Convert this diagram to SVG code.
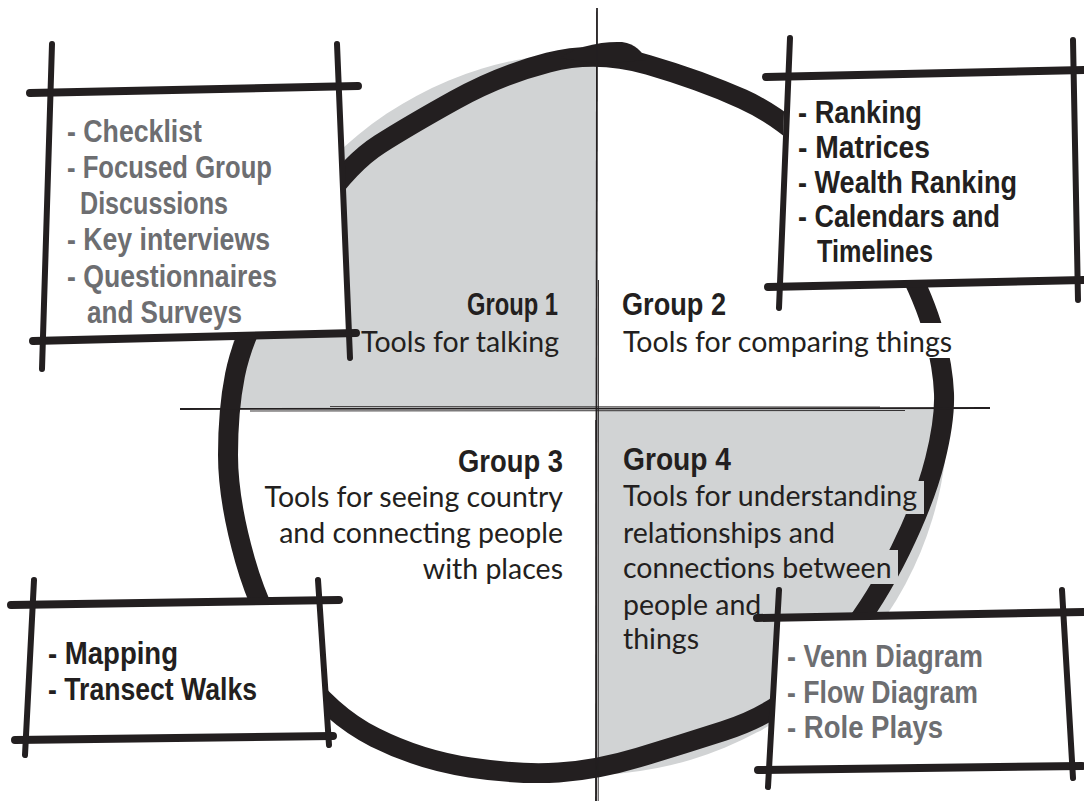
<svg xmlns="http://www.w3.org/2000/svg" width="1084" height="801" viewBox="0 0 1084 801">
<style>
.hand{font-family:"Liberation Sans",Arial,sans-serif;font-weight:bold;font-size:31px}
.head{font-size:32px}
.grey{fill:#6d6e71}
.dark{fill:#231f20}
.body{font-family:Lato,"Open Sans","Liberation Sans",sans-serif;font-size:28.5px;fill:#231f20}
.bx{fill:none;stroke:#231f20;stroke-linecap:round}
.h{stroke-width:8}
.v{stroke-width:6}
.div{fill:none;stroke:#231f20}
</style>
<defs>
<clipPath id="quads">
<rect x="0" y="0" width="597" height="409"/>
<rect x="597" y="409" width="487" height="392"/>
</clipPath>
</defs>
<rect width="1084" height="801" fill="#ffffff"/>
<g id="wheel">
<circle cx="587" cy="414" r="361" fill="#d1d3d4" clip-path="url(#quads)"/>
<path d="M 648.5,65 Q 700,80 742.5,99 Q 785,118 832.5,166.5 Q 880,215 902.5,257.5 Q 925,300 934,333.5 Q 943,367 944,393.5 Q 945,420 935,460 Q 925,500 900.5,550 Q 876,600 848,635 Q 820,670 793.5,693.5 Q 767,717 723.5,731 Q 680,745 638.5,757.5 Q 597,770 558.5,772.5 Q 520,775 470,767.5 Q 420,760 375,737.5 Q 330,715 296,667.5 Q 262,620 245,560 Q 228,500 228,455 Q 228,410 235,375 Q 242,340 266,295 Q 290,250 320,206.5 Q 350,163 380,144 Q 410,125 455,100 Q 500,75 548.5,62.5 Q 597,50 648.5,65 Z" fill="none" stroke="#231f20" stroke-width="20"/>
<path d="M 560,58 C 575,47 600,41 622,42 C 636,44 642,52 646,60 L 600,64 Z" fill="#231f20"/>
</g>
<g id="dividers">
<path class="div" d="M597,8 L596,801" stroke-width="1.8"/>
<path class="div" d="M598.5,280 L598.2,801" stroke-width="0.9"/>
<path class="div" d="M595.6,420 L596.2,801" stroke-width="0.8"/>
<path class="div" d="M180,409 L990,408" stroke-width="1.8"/>
<path class="div" d="M250,411 L905,410.5" stroke-width="0.9"/>
<path class="div" d="M330,406.5 L880,407" stroke-width="0.8"/>
</g>
<g id="group1">
<text class="hand head dark" x="467" y="315" textLength="91" lengthAdjust="spacingAndGlyphs">Group 1</text>
<text class="body" x="559" y="352" text-anchor="end">Tools for talking</text>
</g>
<g id="group2">
<rect x="618" y="323" width="336" height="35" fill="#ffffff"/>
<text class="hand head dark" x="622" y="315" textLength="104" lengthAdjust="spacingAndGlyphs">Group 2</text>
<text class="body" x="623" y="352">Tools for comparing things</text>
</g>
<g id="group3">
<text class="hand head dark" x="458" y="472" textLength="105" lengthAdjust="spacingAndGlyphs">Group 3</text>
<text class="body" text-anchor="end"><tspan x="563" y="507">Tools for seeing country</tspan><tspan x="563" y="543">and connecting people</tspan><tspan x="563" y="579">with places</tspan></text>
</g>
<g id="group4">
<rect x="620" y="481" width="304" height="33" fill="#d1d3d4"/>
<rect x="620" y="550" width="278" height="34" fill="#d1d3d4"/>
<text class="hand head dark" x="623" y="470" textLength="108" lengthAdjust="spacingAndGlyphs">Group 4</text>
<text class="body"><tspan x="623" y="506">Tools for understanding</tspan><tspan x="623" y="543">relationships and</tspan><tspan x="623" y="578">connections between</tspan><tspan x="623" y="615">people and</tspan><tspan x="623" y="649">things</tspan></text>
</g>
<g id="box-talking">
<polygon points="47,93 342,88 348,336 40,340" fill="#ffffff"/>
<path class="bx h" d="M30,93 L358,86"/>
<path class="bx h" d="M33,341 L356,333"/>
<path class="bx v" d="M52,44 L42,369"/>
<path class="bx v" d="M337,44 L350,358"/>
<text class="hand grey" x="67" y="142" textLength="135" lengthAdjust="spacingAndGlyphs">- Checklist</text>
<text class="hand grey" x="67" y="178" textLength="205" lengthAdjust="spacingAndGlyphs">- Focused Group</text>
<text class="hand grey" x="80" y="214" textLength="148" lengthAdjust="spacingAndGlyphs">Discussions</text>
<text class="hand grey" x="67" y="250" textLength="203" lengthAdjust="spacingAndGlyphs">- Key interviews</text>
<text class="hand grey" x="67" y="287" textLength="210" lengthAdjust="spacingAndGlyphs">- Questionnaires</text>
<text class="hand grey" x="87" y="323" textLength="155" lengthAdjust="spacingAndGlyphs">and Surveys</text>
</g>
<g id="box-comparing">
<polygon points="785,77 1075,71 1077,282 779,287" fill="#ffffff"/>
<path class="bx h" d="M766,77 L1084,70"/>
<path class="bx h" d="M768,287 L1084,280"/>
<path class="bx v" d="M790,38 L779,308"/>
<path class="bx v" d="M1073,40 L1078,300"/>
<text class="hand dark" x="798" y="123" textLength="124" lengthAdjust="spacingAndGlyphs">- Ranking</text>
<text class="hand dark" x="798" y="158" textLength="132" lengthAdjust="spacingAndGlyphs">- Matrices</text>
<text class="hand dark" x="798" y="193" textLength="219" lengthAdjust="spacingAndGlyphs">- Wealth Ranking</text>
<text class="hand dark" x="798" y="227" textLength="202" lengthAdjust="spacingAndGlyphs">- Calendars and</text>
<text class="hand dark" x="817" y="262" textLength="116" lengthAdjust="spacingAndGlyphs">Timelines</text>
</g>
<g id="box-seeing">
<polygon points="30,604 322,600 328,737 24,740" fill="#ffffff"/>
<path class="bx h" d="M11,605 L339,600"/>
<path class="bx h" d="M15,740 L333,736"/>
<path class="bx v" d="M34,580 L25,755"/>
<path class="bx v" d="M318,580 L329,745"/>
<text class="hand dark" x="48" y="664" textLength="130" lengthAdjust="spacingAndGlyphs">- Mapping</text>
<text class="hand dark" x="48" y="700" textLength="209" lengthAdjust="spacingAndGlyphs">- Transect Walks</text>
</g>
<g id="box-understanding">
<polygon points="777,617 1064,612 1071,767 769,770" fill="#ffffff"/>
<path class="bx h" d="M757,618 L1084,612"/>
<path class="bx h" d="M758,770 L1082,766"/>
<path class="bx v" d="M779,590 L768,787"/>
<path class="bx v" d="M1062,590 L1073,778"/>
<text class="hand grey" x="787" y="667" textLength="196" lengthAdjust="spacingAndGlyphs">- Venn Diagram</text>
<text class="hand grey" x="787" y="703" textLength="191" lengthAdjust="spacingAndGlyphs">- Flow Diagram</text>
<text class="hand grey" x="787" y="738" textLength="156" lengthAdjust="spacingAndGlyphs">- Role Plays</text>
</g>
</svg>
